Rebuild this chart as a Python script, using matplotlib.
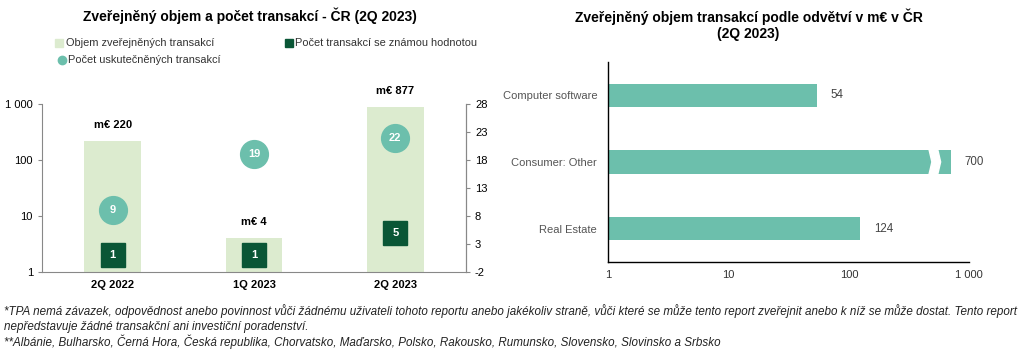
import numpy as np
import matplotlib
matplotlib.use('Agg')
import matplotlib.pyplot as plt
from matplotlib.patches import Polygon
from matplotlib.ticker import FixedLocator, FuncFormatter

plt.rcParams['font.family'] = ['Liberation Sans', 'DejaVu Sans']
plt.rcParams['axes.unicode_minus'] = False

# data - left chart
quarters = ['2Q 2022', '1Q 2023', '2Q 2023']
volume = [220, 4, 877]            # m€
deals_total = [9, 19, 22]         # počet uskutečněných transakcí
deals_known = [1, 1, 5]           # počet transakcí se známou hodnotou

# data - right chart
sectors = ['Computer software', 'Consumer: Other', 'Real Estate']
sector_volume = [54, 700, 124]

c_bar = '#dcebcf'
c_teal = '#6cbfac'
c_dark = '#0a5636'

fig = plt.figure(figsize=(10.24, 3.51), dpi=100)

def fmt_thousands(v, pos):
    return f'{int(round(v)):,}'.replace(',', ' ')

# ---- left chart ----
ax = fig.add_axes([0.041, 0.225, 0.414, 0.479])
x = np.arange(len(quarters))
ax.bar(x, volume, width=0.4, color=c_bar, zorder=1)
ax.set_yscale('log')
ax.set_ylim(1, 1000)
ax.set_xlim(-0.5, 2.5)
ax.yaxis.set_major_locator(FixedLocator([1, 10, 100, 1000]))
ax.yaxis.set_minor_locator(FixedLocator([]))
ax.yaxis.set_major_formatter(FuncFormatter(fmt_thousands))
ax.set_xticks(x)
ax.set_xticklabels(quarters, fontweight='bold', fontsize=8)
ax.tick_params(axis='x', length=0, pad=6)
ax.tick_params(axis='y', labelsize=8, length=3, color='#888888')
ax.spines['top'].set_visible(False)
for s in ['left', 'bottom', 'right']:
    ax.spines[s].set_color('#888888')
    ax.spines[s].set_linewidth(0.8)
for xi, v in zip(x, volume):
    ax.annotate(f'm€ {v}', (xi, v), xytext=(0, 8), textcoords='offset points',
                ha='center', va='bottom', fontsize=8, fontweight='bold')

ax2 = ax.twinx()
ax2.set_ylim(-2, 28)
ax2.set_yticks([-2, 3, 8, 13, 18, 23, 28])
ax2.tick_params(axis='y', labelsize=8, length=3, color='#888888')
for s in ['top', 'left', 'bottom']:
    ax2.spines[s].set_visible(False)
ax2.spines['right'].set_color('#888888')
ax2.plot(x, deals_total, 'o', ms=20, color=c_teal, ls='none', zorder=3)
ax2.plot(x, deals_known, 's', ms=17, color=c_dark, ls='none', zorder=3)
for xi, v in zip(x, deals_total):
    ax2.text(xi, v, str(v), ha='center', va='center', color='white',
             fontsize=8, fontweight='bold', zorder=4)
for xi, v in zip(x, deals_known):
    ax2.text(xi, v, str(v), ha='center', va='center', color='white',
             fontsize=8, fontweight='bold', zorder=4)

fig.text(0.244, 0.955, 'Zveřejněný objem a počet transakcí - ČR (2Q 2023)',
         ha='center', va='center', fontsize=10, fontweight='bold')

# legend (manual)
lg_fs = 7.9
fig.lines.append(plt.Line2D([0.058], [0.877], marker='s', ms=6, color=c_bar,
                            transform=fig.transFigure, ls='none'))
fig.text(0.064, 0.877, 'Objem zveřejněných transakcí', fontsize=lg_fs, va='center', color='#333333')
fig.lines.append(plt.Line2D([0.282], [0.877], marker='s', ms=6, color=c_dark,
                            transform=fig.transFigure, ls='none'))
fig.text(0.288, 0.877, 'Počet transakcí se známou hodnotou', fontsize=lg_fs, va='center', color='#333333')
fig.lines.append(plt.Line2D([0.061], [0.829], marker='o', ms=6, color=c_teal,
                            transform=fig.transFigure, ls='none'))
fig.text(0.066, 0.829, 'Počet uskutečněných transakcí', fontsize=lg_fs, va='center', color='#333333')

# ---- right chart ----
bx = fig.add_axes([0.594, 0.2536, 0.3525, 0.57])
y = np.arange(len(sectors))[::-1]
bx.barh(y, sector_volume, height=0.35, color=c_teal)
bx.set_xscale('log')
bx.set_xlim(1, 1000)
bx.set_ylim(-0.5, 2.5)
bx.xaxis.set_major_locator(FixedLocator([1, 10, 100, 1000]))
bx.xaxis.set_minor_locator(FixedLocator([]))
bx.xaxis.set_major_formatter(FuncFormatter(fmt_thousands))
bx.set_yticks(y)
bx.set_yticklabels(sectors, fontsize=8, color='#555555')
bx.tick_params(axis='y', length=0, pad=8)
bx.tick_params(axis='x', length=0, labelsize=8, pad=6, labelcolor='#333333')
for s in ['top', 'right']:
    bx.spines[s].set_visible(False)
for s in ['left', 'bottom']:
    bx.spines[s].set_color('black')
    bx.spines[s].set_linewidth(1.0)
for yi, v in zip(y, sector_volume):
    bx.annotate(str(v), (v, yi), xytext=(10, 0), textcoords='offset points',
                ha='left', va='center', fontsize=8.3, color='#444444')

# axis break marker on the largest bar
imax = int(np.argmax(sector_volume))
vmax = sector_volume[imax]
yc = y[imax]
h = 0.35 / 2 + 0.02
x0, x1, tip = vmax * 0.66, vmax * 0.78, 1.06
brk = Polygon([(x0, yc + h), (x0 * tip, yc), (x0, yc - h),
               (x1, yc - h), (x1 * tip, yc), (x1, yc + h)],
              closed=True, color='white', zorder=5)
bx.add_patch(brk)

fig.text(0.731, 0.929, 'Zveřejněný objem transakcí podle odvětví v m€ v ČR\n(2Q 2023)',
         ha='center', va='center', fontsize=10, fontweight='bold', linespacing=1.15)

# footnotes
notes = [
    '*TPA nemá závazek, odpovědnost anebo povinnost vůči žádnému uživateli tohoto reportu anebo jakékoliv straně, vůči které se může tento report zveřejnit anebo k níž se může dostat. Tento report',
    'nepředstavuje žádné transakční ani investiční poradenství.',
    '**Albánie, Bulharsko, Černá Hora, Česká republika, Chorvatsko, Maďarsko, Polsko, Rakousko, Rumunsko, Slovensko, Slovinsko a Srbsko',
]
for i, t in enumerate(notes):
    fig.text(0.004, 0.113 - i * 0.044, t, fontsize=8.4, style='italic',
             va='center', ha='left', color='#222222')

fig.savefig('out.png', dpi=100)
